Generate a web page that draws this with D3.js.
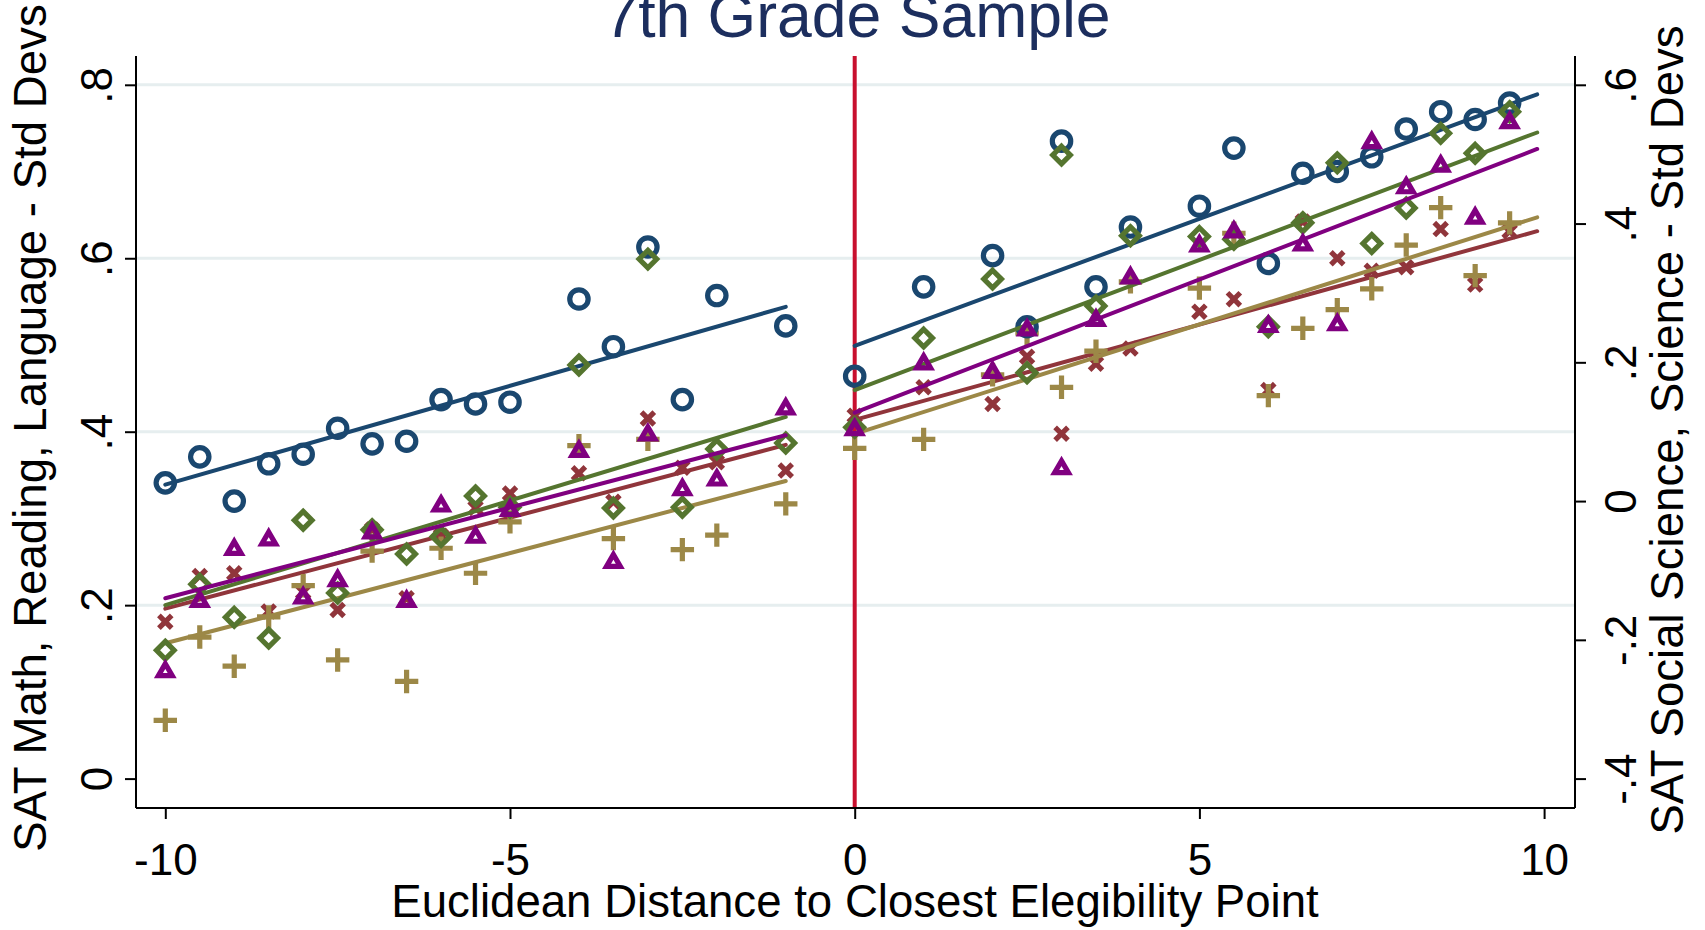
<!DOCTYPE html>
<html><head><meta charset="utf-8">
<script src="https://cdn.jsdelivr.net/npm/d3@7"></script>
<style>body{margin:0;background:#fff}svg{display:block}text{font-family:"Liberation Sans",Arial,sans-serif}</style>
</head><body><svg id="c" width="1705" height="930"></svg>
<script>
// ---------------- data ----------------
const xLeft  = [-10,-9.5,-9,-8.5,-8,-7.5,-7,-6.5,-6,-5.5,-5,-4,-3.5,-3,-2.5,-2,-1];
const xRight = [0,1,2,2.5,3,3.5,4,5,5.5,6,6.5,7,7.5,8,8.5,9,9.5];

// left axis series (SAT Math, Reading, Language)
const mathLeft  = [0.341,0.371,0.320,0.363,0.374,0.404,0.386,0.389,0.437,0.432,0.434,0.553,0.498,0.613,0.437,0.557,0.522];
const mathRight = [0.464,0.567,0.603,0.521,0.735,0.567,0.636,0.660,0.727,0.594,0.698,0.700,0.717,0.749,0.769,0.760,0.779];
const readLeft  = [0.148,0.224,0.186,0.162,0.298,0.214,0.287,0.259,0.279,0.326,0.313,0.477,0.312,0.599,0.313,0.380,0.387];
const readRight = [0.405,0.508,0.576,0.468,0.719,0.545,0.626,0.625,0.622,0.521,0.641,0.710,0.617,0.658,0.744,0.721,0.769];
const langLeft  = [0.127,0.208,0.268,0.279,0.212,0.232,0.287,0.208,0.318,0.282,0.313,0.381,0.253,0.400,0.337,0.348,0.430];
const langRight = [0.406,0.482,0.472,0.521,0.361,0.532,0.581,0.618,0.634,0.525,0.619,0.527,0.737,0.685,0.710,0.650,0.760];
// right axis series (SAT Social Science, Science)
const socLeft   = [-0.174,-0.108,-0.104,-0.159,-0.131,-0.157,-0.041,-0.140,-0.050,-0.010,0.011,0.040,-0.001,0.119,0.048,0.056,0.044];
const socRight  = [0.123,0.164,0.140,0.208,0.097,0.198,0.220,0.273,0.291,0.160,0.403,0.350,0.332,0.337,0.392,0.312,0.389];
const sciLeft   = [-0.316,-0.196,-0.238,-0.167,-0.122,-0.229,-0.072,-0.260,-0.068,-0.104,-0.030,0.080,-0.054,0.089,-0.070,-0.049,-0.004];
const sciRight  = [0.076,0.089,0.182,0.242,0.164,0.216,0.316,0.307,0.386,0.152,0.249,0.276,0.306,0.369,0.423,0.325,0.401];

// linear-fit endpoints: [value at start, value at end]
const fitRangeLeft  = [-10,-1];
const fitRangeRight = [0,9.9];
const mathFitL = [0.339,0.544], mathFitR = [0.499,0.789];
const readFitL = [0.200,0.417], readFitR = [0.448,0.745];
const langFitL = [0.208,0.396], langFitR = [0.422,0.726];
const socFitL  = [-0.155,0.081], socFitR = [0.117,0.389];
const sciFitL  = [-0.205,0.029], sciFitR = [0.097,0.409];

const xTicks = [-10,-5,0,5,10];
const xTickLabels = ["-10","-5","0","5","10"];
const yLeftTicks = [0,0.2,0.4,0.6,0.8];
const yLeftTickLabels = ["0",".2",".4",".6",".8"];
const yRightTicks = [-0.4,-0.2,0,0.2,0.4,0.6];
const yRightTickLabels = ["-.4","-.2","0",".2",".4",".6"];
const gridValues = [0.2,0.4,0.6,0.8];

const titleText = "7th Grade Sample";
const xTitle = "Euclidean Distance to Closest Elegibility Point";
const yLeftTitle = "SAT Math, Reading, Language - Std Devs";
const yRightTitle = "SAT Social Science, Science - Std Devs";

// ---------------- layout ----------------
const svg = d3.select("#c");
const P = {left:136,right:1575,top:56,bottom:808};
const x  = d3.scaleLinear().domain([-10,10]).range([165.3,1544.1]);
const yL = d3.scaleLinear().domain([0,0.8]).range([778.6,84.8]);
const yR = d3.scaleLinear().domain([-0.4,0.6]).range([778.6,84.8]);

const C = {navy:"#1a476f",green:"#55752f",purple:"#800080",maroon:"#90353b",khaki:"#9c8847",red:"#c8102e",grid:"#e6eeef"};

// gridlines
svg.append("g").selectAll("line").data(gridValues).join("line")
  .attr("x1",P.left).attr("x2",P.right)
  .attr("y1",d=>yL(d)).attr("y2",d=>yL(d))
  .attr("stroke",C.grid).attr("stroke-width",3);

// xline at 0
svg.append("line").attr("x1",x(0)).attr("x2",x(0)).attr("y1",P.top).attr("y2",P.bottom)
  .attr("stroke",C.red).attr("stroke-width",4);

// marker paths
const markers = {
  circle: "M9.2,0A9.2,9.2,0,1,1,-9.2,0A9.2,9.2,0,1,1,9.2,0Z",
  diamond: "M0,-8.8L8.8,0L0,8.8L-8.8,0Z",
  triangle: "M0,-4.7L6.9,7.2L-6.9,7.2Z",
  times: "M-6.4,-6.4L6.4,6.4M6.4,-6.4L-6.4,6.4",
  plus: "M-11.7,0L11.7,0M0,-11.7L0,11.7"
};

function drawSeries(xs, ys, yScale, shape, color){
  svg.append("g").selectAll("path").data(xs.map((d,i)=>[d,ys[i]])).join("path")
    .attr("d", markers[shape])
    .attr("transform", d=>`translate(${x(d[0])},${yScale(d[1])})`)
    .attr("fill", "none").attr("stroke", color).attr("stroke-width", 5.2)
    .attr("stroke-linejoin","miter").attr("stroke-linecap","butt");
}
function drawFit(range, vals, yScale, color){
  svg.append("line")
    .attr("x1",x(range[0])).attr("x2",x(range[1]))
    .attr("y1",yScale(vals[0])).attr("y2",yScale(vals[1]))
    .attr("stroke",color).attr("stroke-width",4).attr("stroke-linecap","round");
}

// right-axis series
drawSeries(xLeft, socLeft, yR, "times", C.maroon);
drawSeries(xRight, socRight, yR, "times", C.maroon);
drawFit(fitRangeLeft, socFitL, yR, C.maroon);
drawFit(fitRangeRight, socFitR, yR, C.maroon);
drawSeries(xLeft, sciLeft, yR, "plus", C.khaki);
drawSeries(xRight, sciRight, yR, "plus", C.khaki);
drawFit(fitRangeLeft, sciFitL, yR, C.khaki);
drawFit(fitRangeRight, sciFitR, yR, C.khaki);
// left-axis series
drawSeries(xLeft, mathLeft, yL, "circle", C.navy);
drawSeries(xRight, mathRight, yL, "circle", C.navy);
drawFit(fitRangeLeft, mathFitL, yL, C.navy);
drawFit(fitRangeRight, mathFitR, yL, C.navy);
drawSeries(xLeft, readLeft, yL, "diamond", C.green);
drawSeries(xRight, readRight, yL, "diamond", C.green);
drawFit(fitRangeLeft, readFitL, yL, C.green);
drawFit(fitRangeRight, readFitR, yL, C.green);
drawSeries(xLeft, langLeft, yL, "triangle", C.purple);
drawSeries(xRight, langRight, yL, "triangle", C.purple);
drawFit(fitRangeLeft, langFitL, yL, C.purple);
drawFit(fitRangeRight, langFitR, yL, C.purple);

// axes
const fs = 44;
const gx = svg.append("g").attr("transform",`translate(0,${P.bottom})`)
  .call(d3.axisBottom(x).tickValues(xTicks).tickSize(11).tickPadding(6).tickFormat((d,i)=>xTickLabels[i]));
gx.select(".domain").remove();
gx.selectAll(".tick line").attr("stroke","#000").attr("stroke-width",2);
gx.selectAll(".tick text").attr("y",null).attr("dy",null)
  .attr("transform","translate(0,67)").attr("font-size",fs).attr("fill","#000");

const gyl = svg.append("g").attr("transform",`translate(${P.left},0)`)
  .call(d3.axisLeft(yL).tickValues(yLeftTicks).tickSize(11).tickFormat((d,i)=>yLeftTickLabels[i]));
gyl.select(".domain").remove();
gyl.selectAll(".tick line").attr("stroke","#000").attr("stroke-width",2);
gyl.selectAll(".tick text").attr("x",null).attr("dy",null).attr("text-anchor","middle")
  .attr("transform","translate(-24,0) rotate(-90)").attr("font-size",fs).attr("fill","#000");

const gyr = svg.append("g").attr("transform",`translate(${P.right},0)`)
  .call(d3.axisRight(yR).tickValues(yRightTicks).tickSize(11).tickFormat((d,i)=>yRightTickLabels[i]));
gyr.select(".domain").remove();
gyr.selectAll(".tick line").attr("stroke","#000").attr("stroke-width",2);
gyr.selectAll(".tick text").attr("x",null).attr("dy",null).attr("text-anchor","middle")
  .attr("transform","translate(61,0) rotate(-90)").attr("font-size",fs).attr("fill","#000");

// axis lines
svg.append("line").attr("x1",P.left).attr("x2",P.right).attr("y1",P.bottom).attr("y2",P.bottom).attr("stroke","#000").attr("stroke-width",2);
svg.append("line").attr("x1",P.left).attr("x2",P.left).attr("y1",P.top).attr("y2",P.bottom).attr("stroke","#000").attr("stroke-width",2);
svg.append("line").attr("x1",P.right).attr("x2",P.right).attr("y1",P.top).attr("y2",P.bottom).attr("stroke","#000").attr("stroke-width",2);

// titles
svg.append("text").attr("x",857).attr("y",37).attr("text-anchor","middle")
  .attr("font-size",62.5).attr("fill","#1c2e5e").text(titleText);
svg.append("text").attr("x",855).attr("y",917).attr("text-anchor","middle")
  .attr("font-size",45.6).attr("fill","#000").text(xTitle);
svg.append("text").attr("transform","translate(46,428) rotate(-90)").attr("text-anchor","middle")
  .attr("font-size",45.6).attr("fill","#000").text(yLeftTitle);
svg.append("text").attr("transform","translate(1683,430) rotate(-90)").attr("text-anchor","middle")
  .attr("font-size",45.6).attr("fill","#000").text(yRightTitle);
</script></body></html>
